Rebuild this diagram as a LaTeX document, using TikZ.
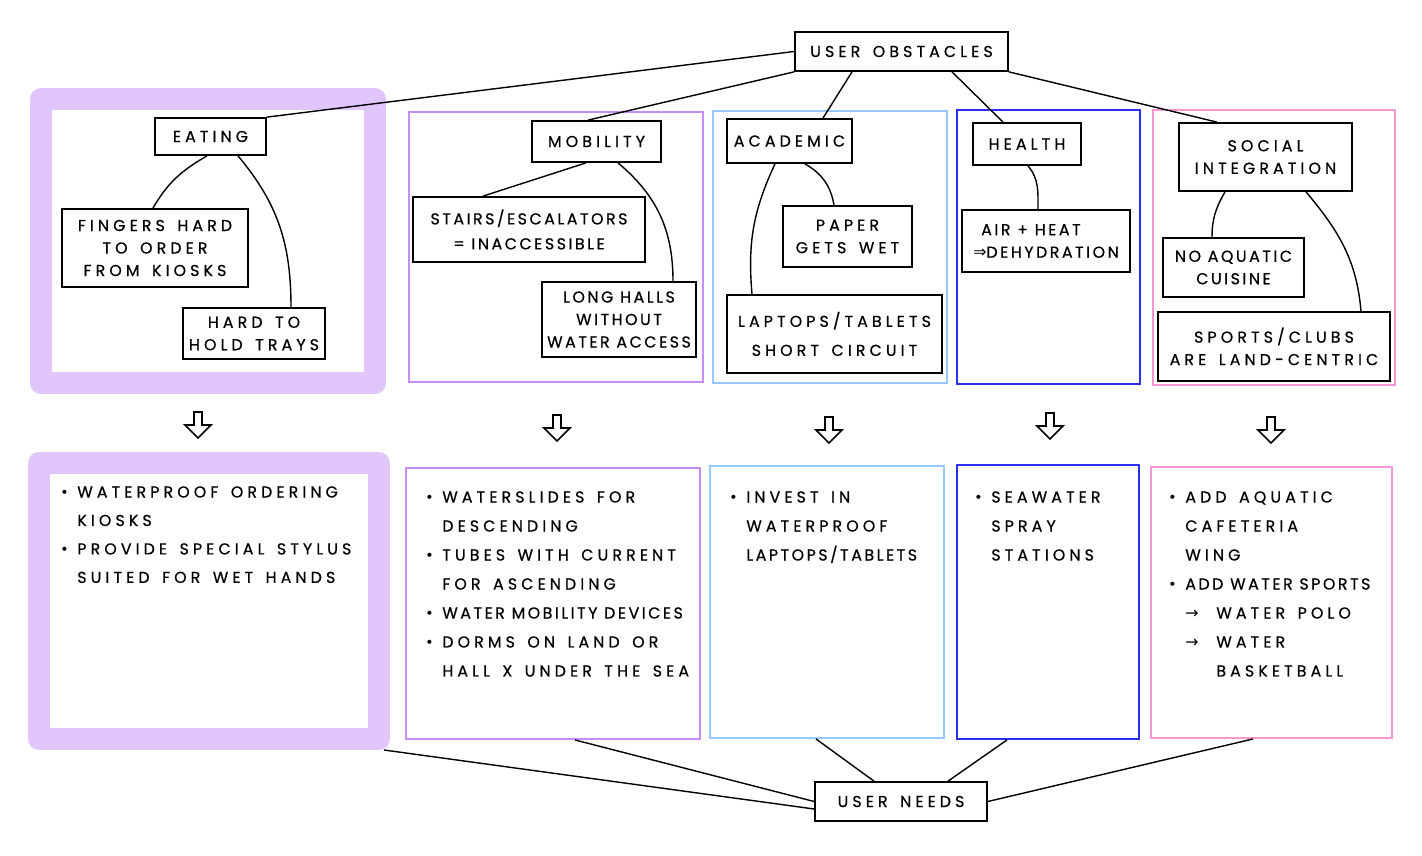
\documentclass[tikz,border=0pt]{standalone}
\usepackage{fontspec}
\newfontfamily\hand[LetterSpace=26,WordSpace=1.5,FakeBold=0.6]{Poppins}
\newfontfamily\handtight[LetterSpace=16,FakeBold=0.6]{Poppins}
\newfontfamily\sym{DejaVu Sans}
\definecolor{lavfill}{RGB}{224,198,250}
\definecolor{mobline}{RGB}{198,142,246}
\definecolor{acadline}{RGB}{150,200,255}
\definecolor{healline}{RGB}{45,45,240}
\definecolor{socline}{RGB}{245,150,215}
\newcommand\itm{\makebox[3.4mm][l]{\sym\footnotesize\textbullet}}
\newcommand\ind{\hspace*{3.4mm}}
\tikzset{
	boxsize/.style 2 args={minimum width=#1*0.2mm,minimum height=#2*0.2mm},
	box/.style={draw=black,line width=1pt,inner sep=0pt,align=center,font=\hand\fontsize{9}{12.8}\selectfont},
	panel/.style={draw=#1,line width=1.1pt,inner sep=0pt},
	thickpanel/.style={draw=lavfill,line width=4.4mm,line join=round,inner sep=0pt},
	needtext/.style={anchor=north west,align=left,inner sep=0pt,font=\hand\fontsize{9}{16.5}\selectfont},
	link/.style={line width=0.8pt},
	hollow/.style={line width=0.9pt,line join=miter}
}
\begin{document}
\begin{tikzpicture}[x=0.2mm,y=-0.2mm]
	\useasboundingbox (0,0) rectangle (1422,856);
	\node[thickpanel,boxsize={334}{284}] (peat) at (208,241) {};
	\node[panel=mobline,boxsize={294}{270}] (pmob) at (556,247) {};
	\node[panel=acadline,boxsize={234}{272}] (pacad) at (830,247) {};
	\node[panel=healline,boxsize={183}{274}] (pheal) at (1048.5,247) {};
	\node[panel=socline,boxsize={242}{275}] (psoc) at (1274,247.5) {};
	\node[thickpanel,boxsize={340}{276}] (neat) at (209,601) {};
	\node[panel=mobline,boxsize={294}{271}] (nmob) at (553,603.5) {};
	\node[panel=acadline,boxsize={234}{272}] (nacad) at (827,602) {};
	\node[panel=healline,boxsize={182}{274}] (nheal) at (1048,602) {};
	\node[panel=socline,boxsize={241}{271}] (nsoc) at (1271.5,602.5) {};

	\node[box,boxsize={213}{39}] (obst) at (901.5,51.5) {USER OBSTACLES};
	\node[box,boxsize={172}{39}] (needs) at (901,801.5) {USER NEEDS};

	\node[box,boxsize={111}{37}] (eat) at (210.5,136.5) {EATING};
	\node[box,boxsize={186}{78}] (fing) at (155,248) {FINGERS HARD\\TO ORDER\\FROM KIOSKS};
	\node[box,boxsize={142}{51}] (tray) at (254,333.5) {HARD TO\\HOLD TRAYS};
	\node[box,boxsize={129}{41}] (mob) at (596.5,141.5) {MOBILITY};
	\node[box,boxsize={232}{65},font=\handtight\fontsize{9}{14.2}\selectfont] (stair) at (529,229.5) {STAIRS/ESCALATORS\\= INACCESSIBLE};
	\node[box,boxsize={154}{75},font=\handtight\fontsize{9}{12.8}\selectfont] (hall) at (619,319.5) {LONG HALLS\\WITHOUT\\WATER ACCESS};
	\node[box,boxsize={125}{44}] (acad) at (789.5,141) {ACADEMIC};
	\node[box,boxsize={129}{61}] (paper) at (847.5,236.5) {PAPER\\GETS WET};
	\node[box,boxsize={215}{78},font=\hand\fontsize{9}{16.5}\selectfont] (lapt) at (834.5,334) {LAPTOPS/TABLETS\\SHORT CIRCUIT};
	\node[box,boxsize={108}{42}] (heal) at (1027,144) {HEALTH};
	\node[box,boxsize={168}{62},align=left,font=\handtight\fontsize{9}{12.8}\selectfont] (air) at (1046,241) {\hspace*{1.6mm}AIR + HEAT\\{\sym ⇒}DEHYDRATION};
	\node[box,boxsize={173}{68}] (soc) at (1265.5,157) {SOCIAL\\INTEGRATION};
	\node[box,boxsize={141}{59},font=\handtight\fontsize{9}{12.8}\selectfont] (cuis) at (1233.5,267.5) {NO AQUATIC\\CUISINE};
	\node[box,boxsize={232}{69}] (sport) at (1274,346.5) {SPORTS/CLUBS\\ARE LAND-CENTRIC};

	\node[needtext,font=\hand\fontsize{9}{16.2}\selectfont] (teat) at (60,486) {\itm WATERPROOF ORDERING\\\ind KIOSKS\\\itm PROVIDE SPECIAL STYLUS\\\ind SUITED FOR WET HANDS};
	\node[needtext] (tmob) at (425,491) {\itm WATERSLIDES FOR\\\ind DESCENDING\\\itm TUBES WITH CURRENT\\\ind FOR ASCENDING\\\itm {\handtight WATER MOBILITY DEVICES}\\\itm DORMS ON LAND OR\\\ind HALL X UNDER THE SEA};
	\node[needtext] (tacad) at (729,491) {\itm INVEST IN\\\ind WATERPROOF\\\ind {\handtight LAPTOPS/TABLETS}};
	\node[needtext] (theal) at (974,491) {\itm SEAWATER\\\ind SPRAY\\\ind STATIONS};
	\node[needtext] (tsoc) at (1168,491) {\itm ADD AQUATIC\\\ind CAFETERIA\\\ind WING\\\itm {\handtight ADD WATER SPORTS}\\\ind\makebox[6.2mm][l]{\sym →}WATER POLO\\\ind\makebox[6.2mm][l]{\sym →}WATER\\\hspace*{9.6mm}BASKETBALL};

	\draw[link] (obst.west) -- (eat.north east);
	\draw[link] (obst.south west) -- ([xshift=-1.7mm]mob.north);
	\draw[link] ([xshift=-9.9mm]obst.south) -- ([xshift=6.7mm]acad.north);
	\draw[link] ([xshift=10.1mm]obst.south) -- ([xshift=-4.8mm]heal.north);
	\draw[link] (obst.south east) -- ([xshift=-9.7mm]soc.north);

	\draw[link] ([xshift=-0.7mm]eat.south) to[out=210,in=60] ([xshift=-0.4mm]fing.north);
	\draw[link] ([xshift=5.5mm]eat.south) to[out=-50,in=90] ([xshift=7.4mm]tray.north);
	\draw[link] ([xshift=-2.1mm]mob.south) -- ([xshift=-9.2mm]stair.north);
	\draw[link] ([xshift=4.3mm]mob.south) to[out=-40,in=90] ([xshift=10.8mm]hall.north);
	\draw[link] ([xshift=-2.9mm]acad.south) to[out=-115,in=95] ([xshift=-16.5mm]lapt.north);
	\draw[link] ([xshift=3.1mm]acad.south) to[out=-30,in=100] ([xshift=-2.7mm]paper.north);
	\draw[link] ([xshift=0.2mm]heal.south) to[out=-50,in=90] ([xshift=-1.6mm]air.north);
	\draw[link] ([xshift=-8.1mm]soc.south) to[out=-120,in=90] ([xshift=-4.3mm]cuis.north);
	\draw[link] ([xshift=8.1mm]soc.south) to[out=-50,in=95] ([xshift=17.4mm]sport.north);

	\foreach \ax/\ay in {198/412,557/415,829/417,1050/413,1271/417}
		\draw[hollow] (\ax-4,\ay) -- (\ax-4,\ay+13) -- (\ax-13,\ay+13) -- (\ax,\ay+26) -- (\ax+13,\ay+13) -- (\ax+4,\ay+13) -- (\ax+4,\ay) -- cycle;

	\draw[link] ([xshift=-1.2mm]neat.south east) -- ([yshift=-1.5mm]needs.west);
	\draw[link] ([xshift=4.4mm]nmob.south) -- (needs.west);
	\draw[link] ([xshift=-2.2mm]nacad.south) -- ([xshift=-5.4mm]needs.north);
	\draw[link] ([xshift=-8.2mm]nheal.south) -- ([xshift=9.4mm]needs.north);
	\draw[link] (needs.east) -- ([xshift=-3.7mm]nsoc.south);
\end{tikzpicture}
\end{document}
